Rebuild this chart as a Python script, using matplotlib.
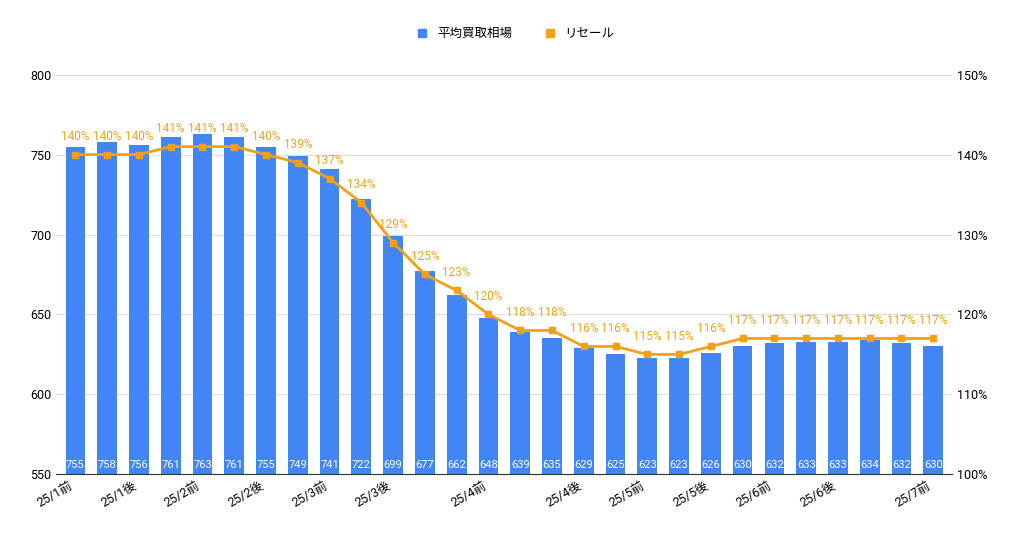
import matplotlib.pyplot as plt
import numpy as np

plt.rcParams['font.family'] = ['Roboto', 'Noto Sans CJK JP']

prices = [755, 758, 756, 761, 763, 761, 755, 749, 741, 722, 699, 677, 662, 648,
          639, 635, 629, 625, 623, 623, 626, 630, 632, 633, 633, 634, 632, 630]
resale = [140, 140, 140, 141, 141, 141, 140, 139, 137, 134, 129, 125, 123, 120,
          118, 118, 116, 116, 115, 115, 116, 117, 117, 117, 117, 117, 117, 117]
tick_pos = [0, 2, 4, 6, 8, 10, 13, 16, 18, 20, 22, 24, 27]
tick_labels = ['25/1前', '25/1後', '25/2前', '25/2後', '25/3前', '25/3後', '25/4前',
               '25/4後', '25/5前', '25/5後', '25/6前', '25/6後', '25/7前']

blue = '#4285f4'
orange = '#f4a017'
x = np.arange(len(prices))

fig, ax = plt.subplots(figsize=(10.24, 5.33), dpi=100)
fig.subplots_adjust(left=0.055, right=0.93, top=0.86, bottom=0.11)
ax.bar(x, prices, width=0.62, color=blue, zorder=2)
ax.set_ylim(550, 800)
ax.set_yticks(range(550, 801, 50))
ax.set_xlim(-0.6, len(x) - 0.4)
ax.grid(axis='y', color='#dddddd', lw=0.8, zorder=0)
for i, v in enumerate(prices):
    ax.text(i, 553, str(v), color='white', ha='center', va='bottom', fontsize=8, zorder=3)
ax.set_xticks(tick_pos)
ax.set_xticklabels(tick_labels, rotation=30, ha='right', fontsize=9)
ax.tick_params(length=0, labelsize=9)
for s in ['top', 'right', 'left']:
    ax.spines[s].set_visible(False)
ax.spines['bottom'].set_color('#333333')

ax2 = ax.twinx()
ax2.plot(x, resale, color=orange, marker='s', ms=5, lw=2, zorder=4)
ax2.set_ylim(100, 150)
ax2.set_yticks(range(100, 151, 10))
ax2.set_yticklabels([f'{t}%' for t in range(100, 151, 10)])
ax2.tick_params(length=0, labelsize=9)
for s in ax2.spines.values():
    s.set_visible(False)
for i, v in enumerate(resale):
    ax2.text(i, v + 1.4, f'{v}%', color=orange, ha='center', va='bottom', fontsize=8.5)

from matplotlib.lines import Line2D
handles = [Line2D([], [], marker='s', ls='', color=blue, ms=6),
           Line2D([], [], marker='s', ls='', color=orange, ms=6)]
fig.legend(handles, ['平均買取相場', 'リセール'], loc='upper center', ncol=2,
           frameon=False, fontsize=9, bbox_to_anchor=(0.5, 0.97), handletextpad=0.2)

fig.savefig('out.png', dpi=100)
